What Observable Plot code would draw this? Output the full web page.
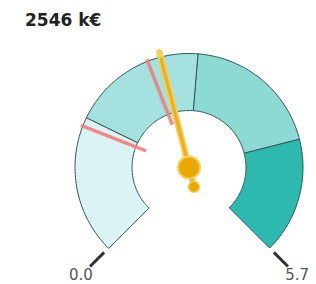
<!DOCTYPE html>
<html>
<head>
<meta charset="utf-8">
<script src="https://cdn.jsdelivr.net/npm/d3@7"></script>
<script src="https://cdn.jsdelivr.net/npm/@observablehq/plot@0.6"></script>
<style>
  html, body { margin: 0; padding: 0; background: #fff; }
  #wrap { position: relative; width: 316px; height: 284px; }
  #title { position: absolute; left: 25px; top: 10px; font: bold 17px "DejaVu Sans", sans-serif; color: #222; white-space: nowrap; }
  #chart { position: absolute; left: 0; top: 0; }
</style>
</head>
<body>
<div id="wrap"><div id="chart"></div><div id="title"></div></div>
<script>
// ---- data ----
const titleLabel = "2546 k€";
const scaleMin = 0;
const scaleMax = 5.7;
const bandBreaks = [0, 1.5, 2.95, 4.45, 5.7];
const markerValues = [1.4, 2.4];
const needleValue = 2.546;
const tickValues = [0, 5.7];
const tickLabels = ["0.0", "5.7"];

// ---- styles / geometry ----
const palette = ["#dcf3f4", "#a5e1de", "#8dd9d3", "#2db9ae"];
const R_OUT = 114, R_IN = 57;
const START = -135, SWEEP = 270;

document.getElementById("title").textContent = titleLabel;

const ang = v => (START + SWEEP * (v - scaleMin) / (scaleMax - scaleMin)) * Math.PI / 180;
const px = (v, r) => r * Math.sin(ang(v));
const py = (v, r) => r * Math.cos(ang(v));

function bandPoly(v0, v1) {
  const N = 48, pts = [];
  for (let k = 0; k <= N; k++) { const v = v0 + (v1 - v0) * k / N; pts.push({x: px(v, R_OUT), y: py(v, R_OUT)}); }
  for (let k = N; k >= 0; k--) { const v = v0 + (v1 - v0) * k / N; pts.push({x: px(v, R_IN), y: py(v, R_IN)}); }
  return pts;
}

const bandMarks = palette.map((c, i) =>
  Plot.line(bandPoly(bandBreaks[i], bandBreaks[i + 1]), {
    x: "x", y: "y", fill: c, stroke: "#2f5656", strokeWidth: 1, curve: "linear-closed"
  })
);

const seg = (vals, r1, r2) => vals.map(v => ({x1: px(v, r1), y1: py(v, r1), x2: px(v, r2), y2: py(v, r2)}));

const chart = Plot.plot({
  width: 316, height: 284, margin: 0,
  x: {domain: [-188.5, 127.5], axis: null},
  y: {domain: [-117, 167], axis: null},
  marks: [
    ...bandMarks,
    Plot.link(seg(tickValues, 120, 140), {x1: "x1", y1: "y1", x2: "x2", y2: "y2", stroke: "#333", strokeWidth: 3}),
    Plot.text(tickValues.map((v, i) => ({x: px(v, 153), y: py(v, 153), t: tickLabels[i]})), {
      x: "x", y: "y", text: "t", fill: "#555", fontSize: 15, fontFamily: "DejaVu Sans, sans-serif"
    }),
    Plot.link(seg(markerValues, 46, 116), {x1: "x1", y1: "y1", x2: "x2", y2: "y2", stroke: "#ee8080", strokeWidth: 3.5, strokeOpacity: 0.9}),
    Plot.link(seg([needleValue], -20, 119), {x1: "x1", y1: "y1", x2: "x2", y2: "y2", stroke: "#f4d05a", strokeWidth: 6.5, strokeLinecap: "round"}),
    Plot.link(seg([needleValue], -20, 112), {x1: "x1", y1: "y1", x2: "x2", y2: "y2", stroke: "#efae1c", strokeWidth: 3, strokeLinecap: "round"}),
    Plot.dot([{x: px(needleValue, -20), y: py(needleValue, -20)}], {x: "x", y: "y", r: 5.5, fill: "#e9a800", stroke: "#f4d05a", strokeWidth: 1.5}),
    Plot.dot([{x: 0, y: 0}], {x: "x", y: "y", r: 11, fill: "#e9a800", stroke: "#f4d05a", strokeWidth: 2})
  ]
});
document.getElementById("chart").appendChild(chart);
</script>
</body>
</html>
